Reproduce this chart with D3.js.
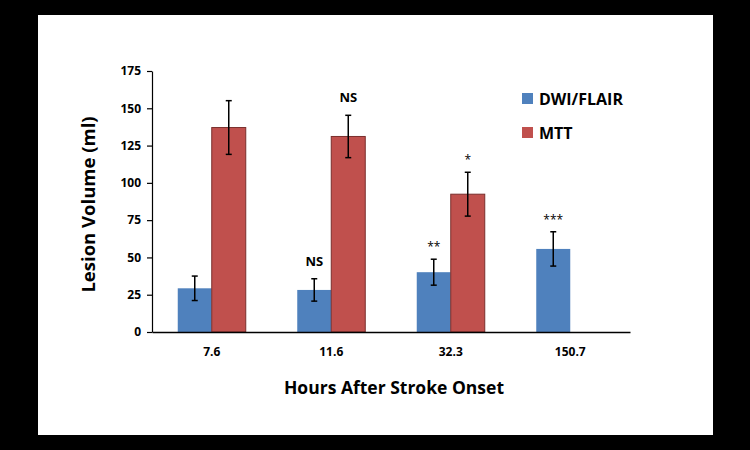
<!DOCTYPE html>
<html>
<head>
<meta charset="utf-8">
<script src="https://cdn.jsdelivr.net/npm/d3@7"></script>
<style>
  html, body { margin: 0; padding: 0; background: #000; }
  svg { display: block; }
  text { font-family: "Open Sans", "Noto Sans", sans-serif; }
</style>
</head>
<body>
<svg id="chart" width="750" height="450"></svg>
<script>
const categories = ["7.6", "11.6", "32.3", "150.7"];
const seriesNames = ["DWI/FLAIR", "MTT"];
const dwiValues = [29.3, 28.2, 40.1, 55.7];
const dwiErrors = [8.2, 7.5, 8.7, 11.5];
const mttValues = [137.1, 131.1, 92.4, null];
const mttErrors = [18.0, 14.2, 14.7, null];
const dwiSignif = ["", "NS", "**", "***"];
const mttSignif = ["", "NS", "*", ""];
const yTicks = [0, 25, 50, 75, 100, 125, 150, 175];

const colors = { "DWI/FLAIR": "#4F81BD", "MTT": "#C0504D" };
const strokes = { "DWI/FLAIR": "none", "MTT": "#7a2f2d" };

const svg = d3.select("#chart");
svg.append("rect").attr("x", 0).attr("y", 0).attr("width", 750).attr("height", 450).attr("fill", "#000");
svg.append("rect").attr("x", 38).attr("y", 15).attr("width", 675).attr("height", 420).attr("fill", "#fff");

const plot = { left: 152, right: 630, top: 71, bottom: 332 };

const x0 = d3.scaleBand().domain(categories).range([plot.left, plot.right]).padding(0);
const pairWidth = 68;
const x1 = d3.scaleBand().domain(seriesNames).range([0, pairWidth]).padding(0);
const y = d3.scaleLinear().domain([0, 175]).range([plot.bottom, plot.top]);

const rows = [];
categories.forEach((c, i) => {
  rows.push({ cat: c, series: "DWI/FLAIR", value: dwiValues[i], err: dwiErrors[i], sig: dwiSignif[i] });
  rows.push({ cat: c, series: "MTT", value: mttValues[i], err: mttErrors[i], sig: mttSignif[i] });
});
const barX = d => x0(d.cat) + (x0.bandwidth() - pairWidth) / 2 + x1(d.series);
const valid = rows.filter(d => d.value != null);

// y axis
const yAxis = d3.axisLeft(y).tickValues(yTicks).tickSize(5).tickPadding(6).tickSizeOuter(0);
const gy = svg.append("g").attr("transform", `translate(${plot.left},0)`).call(yAxis);
gy.select(".domain").attr("stroke", "#000").attr("stroke-width", 1.2);
gy.selectAll(".tick line").attr("stroke", "#000").attr("stroke-width", 1.2);
gy.selectAll(".tick text").attr("font-size", 12).attr("font-weight", "bold").attr("fill", "#000")
  .style("font-family", "'Open Sans', sans-serif");

// bars
svg.append("g").selectAll("rect").data(valid).join("rect")
  .attr("x", d => barX(d))
  .attr("y", d => y(d.value))
  .attr("width", x1.bandwidth())
  .attr("height", d => y(0) - y(d.value))
  .attr("fill", d => colors[d.series])
  .attr("stroke", d => strokes[d.series])
  .attr("stroke-width", 1);

// x axis
const xAxis = d3.axisBottom(x0).tickSize(0).tickPadding(15).tickSizeOuter(0);
const gx = svg.append("g").attr("transform", `translate(0,${plot.bottom})`).call(xAxis);
gx.select(".domain").attr("stroke", "#000").attr("stroke-width", 1.5);
gx.selectAll(".tick text").attr("font-size", 12).attr("font-weight", "bold").attr("fill", "#000")
  .style("font-family", "'Open Sans', sans-serif");

// error bars
const eg = svg.append("g").attr("stroke", "#000").attr("stroke-width", 1.5);
valid.forEach(d => {
  const cx = barX(d) + x1.bandwidth() / 2;
  const yt = y(d.value + d.err), yb = y(d.value - d.err);
  eg.append("line").attr("x1", cx).attr("x2", cx).attr("y1", yt).attr("y2", yb);
  eg.append("line").attr("x1", cx - 3).attr("x2", cx + 3).attr("y1", yt).attr("y2", yt);
  eg.append("line").attr("x1", cx - 3).attr("x2", cx + 3).attr("y1", yb).attr("y2", yb);
});

// significance labels
svg.append("g").selectAll("text").data(valid.filter(d => d.sig)).join("text")
  .attr("x", d => barX(d) + x1.bandwidth() / 2)
  .attr("y", d => y(d.value + d.err) - (d.sig === "NS" ? 13 : 8))
  .attr("text-anchor", "middle")
  .attr("font-size", d => d.sig === "NS" ? 13 : 12)
  .attr("font-weight", d => d.sig === "NS" ? "bold" : "normal")
  .attr("fill", "#000")
  .text(d => d.sig);

// axis titles
svg.append("text")
  .attr("transform", `translate(95,${(plot.top + plot.bottom) / 2 + 3}) rotate(-90)`)
  .attr("text-anchor", "middle").attr("font-size", 18.5).attr("font-weight", "bold").attr("fill", "#000")
  .text("Lesion Volume (ml)");
svg.append("text")
  .attr("x", 394).attr("y", 394)
  .attr("text-anchor", "middle").attr("font-size", 17.5).attr("font-weight", "bold").attr("fill", "#000")
  .text("Hours After Stroke Onset");

// legend
const lg = svg.append("g");
seriesNames.forEach((s, i) => {
  const ly = 93 + i * 34;
  lg.append("rect").attr("x", 522).attr("y", ly).attr("width", 11).attr("height", 11).attr("fill", colors[s]);
  lg.append("text").attr("x", 539).attr("y", ly + 12).attr("font-size", 16).attr("font-weight", "bold")
    .attr("fill", "#000").text(s);
});
</script>
</body>
</html>
